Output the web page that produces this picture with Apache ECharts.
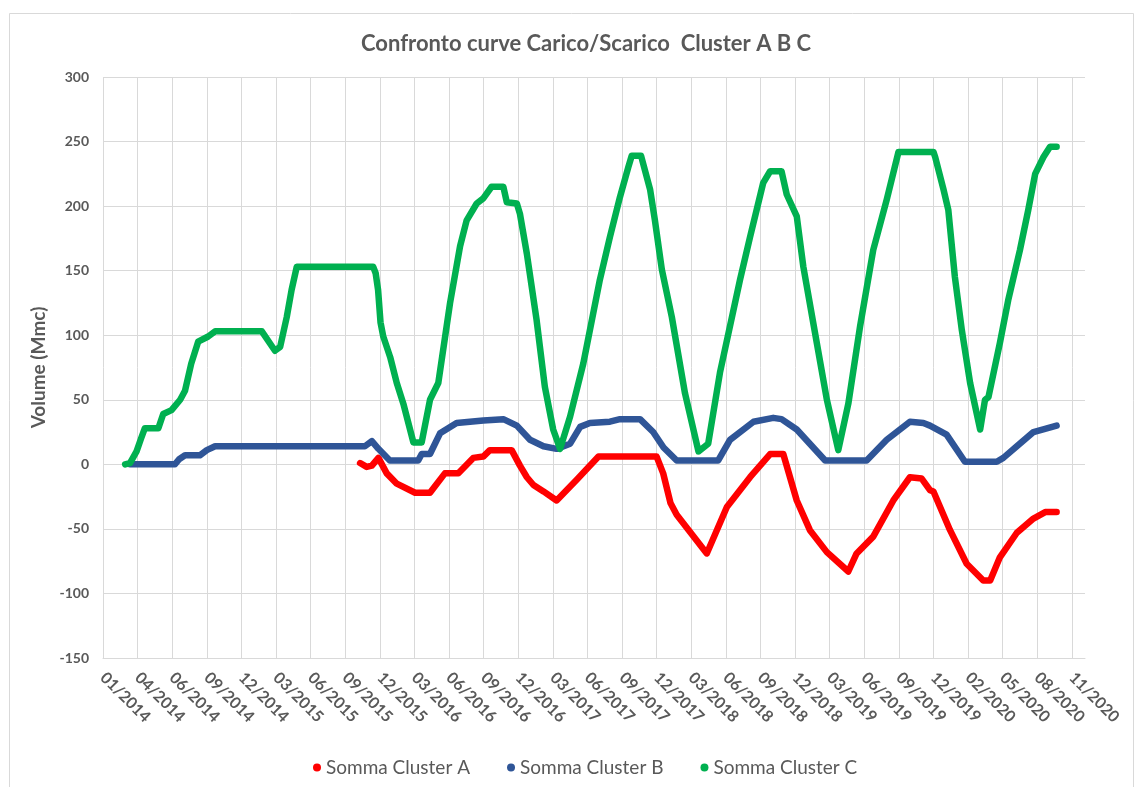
<!DOCTYPE html>
<html>
<head>
<meta charset="utf-8">
<script src="https://cdn.jsdelivr.net/npm/echarts@6/dist/echarts.min.js"></script>
<style>
html,body{margin:0;padding:0;background:#ffffff;}
#chart{width:1138px;height:787px;}
</style>
</head>
<body>
<div id="chart"></div>
<script>
// Tick labels of the date axis (one per major step)
const tickLabels = ['01/2014','04/2014','06/2014','09/2014','12/2014','03/2015','06/2015','09/2015',
  '12/2015','03/2016','06/2016','09/2016','12/2016','03/2017','06/2017','09/2017','12/2017',
  '03/2018','06/2018','09/2018','12/2018','03/2019','06/2019','09/2019','12/2019','02/2020',
  '05/2020','08/2020','11/2020'];

const seriesNames = ['Somma Cluster A','Somma Cluster B','Somma Cluster C'];

// x = position measured in axis steps (0 = 01/2014 ... 28 = 11/2020), y = Volume (Mmc)
const clusterA = [[7.43,1],[7.62,-2],[7.77,-1],[7.96,5],[8.2,-7],[8.49,-15],[9.02,-22],[9.45,-22],
  [9.88,-7],[10.27,-7],[10.7,5],[10.99,6],[11.18,11],[11.81,11],[12.05,-1],[12.25,-10],[12.44,-16],
  [12.73,-21],[13.11,-28],[13.69,-12],[14.32,6],[16.0,6],[16.19,-7],[16.4,-30],[16.58,-39],[17.45,-69],
  [18.03,-33],[18.7,-10],[19.28,8],[19.66,8],[20.05,-28],[20.43,-51],[20.92,-68],[21.54,-83],[21.78,-69],
  [22.26,-56],[22.84,-28],[23.32,-10],[23.66,-11],[23.9,-20],[24.0,-21],[24.48,-51],[24.96,-77],
  [25.44,-90],[25.64,-90],[25.92,-72],[26.41,-53],[26.89,-42],[27.23,-37],[27.56,-37]];

const clusterB = [[0.78,0],[2.08,0],[2.2,4],[2.37,7],[2.8,7],[3.0,11],[3.24,14],[7.57,14],[7.77,18],
  [7.96,12],[8.29,3],[9.11,3],[9.21,8],[9.45,8],[9.74,24],[10.22,32],[10.99,34],[11.57,35],[11.96,30],
  [12.34,19],[12.73,14],[13.11,12],[13.5,16],[13.79,29],[14.07,32],[14.65,33],[14.94,35],[15.52,35],
  [15.9,25],[16.2,13],[16.58,3],[17.78,3],[18.12,19],[18.8,33],[19.37,36],[19.61,35],[20.05,27],
  [20.87,3],[22.07,3],[22.65,19],[23.32,33],[23.71,32],[23.9,30],[24.38,23],[24.91,2],[25.83,2],
  [26.02,5],[26.41,14],[26.89,25],[27.56,30]];

const clusterC = [[0.64,0],[0.78,1],[0.97,10],[1.1,20],[1.21,28],[1.6,28],[1.74,39],[1.98,42],[2.23,50],
  [2.37,57],[2.55,78],[2.75,95],[3.04,99],[3.24,103],[4.59,103],[4.97,88],[5.12,91],[5.31,114],[5.45,135],
  [5.6,153],[7.81,153],[7.88,148],[7.95,135],[8.02,110],[8.1,99],[8.3,83],[8.49,63],[8.68,47],[8.97,17],
  [9.21,17],[9.45,50],[9.69,63],[10.03,125],[10.32,169],[10.51,189],[10.8,202],[10.99,206],[11.23,215],
  [11.57,215],[11.67,203],[11.96,202],[12.05,194],[12.25,163],[12.53,112],[12.77,60],[13.01,27],
  [13.21,12],[13.5,37],[13.88,78],[14.36,143],[14.65,176],[14.94,207],[15.18,230],[15.28,239],
  [15.55,239],[15.81,213],[15.95,189],[16.15,151],[16.44,114],[16.82,55],[17.21,10],[17.49,16],
  [17.83,71],[18.41,143],[18.7,176],[19.08,218],[19.28,227],[19.61,227],[19.76,209],[20.05,192],
  [20.24,153],[20.53,109],[20.92,50],[21.25,11],[21.54,47],[21.88,107],[22.26,166],[22.65,205],
  [22.99,242],[24.0,242],[24.05,238],[24.29,213],[24.43,197],[24.62,145],[24.82,104],[25.06,63],
  [25.35,27],[25.49,50],[25.59,52],[25.92,94],[26.16,127],[26.5,166],[26.74,197],[26.94,225],
  [27.18,238],[27.37,246],[27.56,246]];

const colors = ['#ff0000','#2f5597','#00b050'];
const tickIdx = tickLabels.map((_, i) => i);
const FONT = 'Lato, "Open Sans", sans-serif';
const GREY = '#595959';

const chart = echarts.init(document.getElementById('chart'), null, {renderer: 'canvas'});

const mk = (name, data, color) => ({
  name: name,
  type: 'line',
  data: data,
  showSymbol: false,
  symbol: 'circle',
  color: color,
  lineStyle: {width: 6.5, color: color, cap: 'round', join: 'round'},
  animation: false
});

chart.setOption({
  animation: false,
  backgroundColor: '#ffffff',
  graphic: [{
    type: 'rect', left: 7, top: 11,
    shape: {width: 1124, height: 790},
    style: {fill: 'none', stroke: '#d9d9d9', lineWidth: 1},
    silent: true, z: -10
  }],
  title: {
    text: 'Confronto curve Carico/Scarico  Cluster A B C',
    left: 356, top: 28,
    textStyle: {fontFamily: FONT, fontSize: 22, fontWeight: 'bold', color: GREY}
  },
  legend: {
    data: seriesNames,
    left: 308, top: 753,
    icon: 'circle',
    itemWidth: 8, itemHeight: 8, itemGap: 37,
    textStyle: {fontFamily: FONT, fontSize: 19, color: GREY}
  },
  grid: {left: 103, right: 53, top: 77, bottom: 129, containLabel: false},
  xAxis: {
    type: 'value',
    min: 0, max: 28.38, interval: 1,
    axisLine: {show: true, onZero: false, lineStyle: {color: '#d9d9d9', width: 1}},
    axisTick: {show: false, customValues: tickIdx},
    splitLine: {show: true, lineStyle: {color: '#d9d9d9', width: 1}},
    axisLabel: {
      customValues: tickIdx,
      rotate: -45, margin: 17,
      fontFamily: FONT, fontSize: 16, fontWeight: 'bold', color: GREY,
      formatter: v => { const i = Math.round(v); return Math.abs(v - i) < 1e-6 && tickLabels[i] ? tickLabels[i] : ''; }
    }
  },
  yAxis: {
    type: 'value',
    min: -150, max: 300, interval: 50,
    name: 'Volume (Mmc)', nameLocation: 'middle', nameGap: 46, nameRotate: 90,
    nameTextStyle: {fontFamily: FONT, fontSize: 19, fontWeight: 'bold', color: GREY},
    axisLine: {show: false},
    axisTick: {show: false},
    splitLine: {show: true, lineStyle: {color: '#d9d9d9', width: 1}},
    axisLabel: {margin: 14, fontFamily: FONT, fontSize: 14, fontWeight: 'bold', color: GREY}
  },
  series: [
    mk(seriesNames[0], clusterA, colors[0]),
    mk(seriesNames[1], clusterB, colors[1]),
    mk(seriesNames[2], clusterC, colors[2])
  ]
});
</script>
</body>
</html>
